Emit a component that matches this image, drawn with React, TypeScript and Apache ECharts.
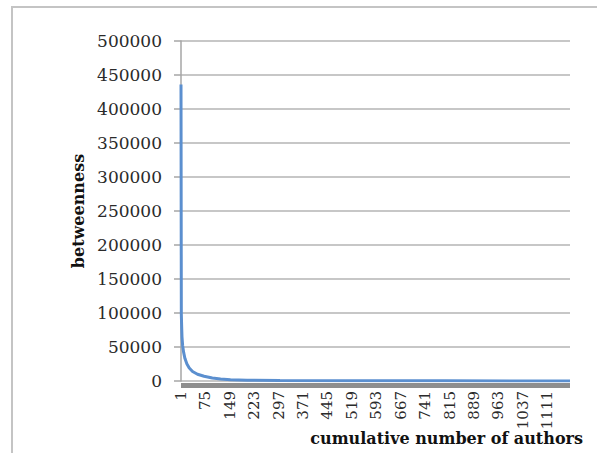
import React, { useEffect, useRef } from "react";
import * as echarts from "echarts";

// Number of authors (categories on the x axis)
const AUTHOR_COUNT = 1180;
const xTickLabels = Array.from({ length: AUTHOR_COUNT }, (_, i) => String(i + 1));

// Points: rank index (0-based) and betweenness value
const rankIndex = [0, 1, 2, 3, 5, 8, 12, 18, 25, 35, 50, 70, 95, 120, 150, 200, 300, 500, 800, 1179];
const betweenness = [436000, 98000, 80000, 65000, 52000, 42000, 33000, 25000, 19000, 14000, 10000, 7000, 4500, 3000, 2000, 1200, 700, 400, 200, 50];

const yTitle = "betweenness";
const xTitle = "cumulative number of authors";

export default function App() {
  const ref = useRef<HTMLDivElement>(null);
  useEffect(() => {
    if (!ref.current) return;
    const chart = echarts.init(ref.current, undefined, { renderer: "svg" });
    const serif = "DejaVu Serif";
    chart.setOption({
      animation: false,
      backgroundColor: "#ffffff",
      grid: { left: 181, top: 41, right: 27, bottom: 72, containLabel: false },
      xAxis: {
        type: "category",
        data: xTickLabels,
        boundaryGap: false,
        axisLine: { show: true, onZero: false, lineStyle: { color: "#8e8e8e", width: 5, cap: "butt" } },
        offset: 4,
        axisTick: { show: false },
        axisLabel: {
          interval: 73,
          rotate: 90,
          margin: 6,
          fontFamily: serif,
          fontSize: 15,
          color: "#2a2a2a",
        },
        splitLine: { show: false },
      },
      yAxis: {
        type: "value",
        min: 0,
        max: 500000,
        interval: 50000,
        name: yTitle,
        nameLocation: "middle",
        nameGap: 86,
        nameTextStyle: { fontFamily: serif, fontSize: 16, fontWeight: "bold", color: "#111111" },
        axisLine: { show: true, lineStyle: { color: "#a6a6a6", width: 1.5 } },
        axisTick: { show: true, length: 7, lineStyle: { color: "#a6a6a6", width: 1.5 } },
        axisLabel: {
          margin: 19,
          fontFamily: serif,
          fontSize: 17,
          color: "#2a2a2a",
          formatter: (v: number) => String(v),
        },
        splitLine: { show: true, lineStyle: { color: "#b4b4b4", width: 1.5 } },
      },
      graphic: [
        {
          type: "rect",
          shape: { x: 12, y: 7, width: 700, height: 600 },
          style: { fill: "none", stroke: "#c4c4c4", lineWidth: 2 },
          silent: true,
        },
        {
          type: "text",
          x: 583,
          y: 438,
          style: {
            text: xTitle,
            align: "right",
            verticalAlign: "middle",
            fontFamily: serif,
            fontSize: 16,
            fontWeight: "bold",
            fill: "#111111",
          },
        },
      ],
      series: [
        {
          type: "line",
          data: rankIndex.map((r, i) => [r, betweenness[i]]),
          showSymbol: false,
          smooth: false,
          lineStyle: { color: "#5b8fcf", width: 3 },
          z: 5,
        },
      ],
    });
    return () => chart.dispose();
  }, []);
  return (
    <div
      ref={ref}
      style={{ position: "fixed", left: 0, top: 0, width: 597, height: 453 }}
    />
  );
}
